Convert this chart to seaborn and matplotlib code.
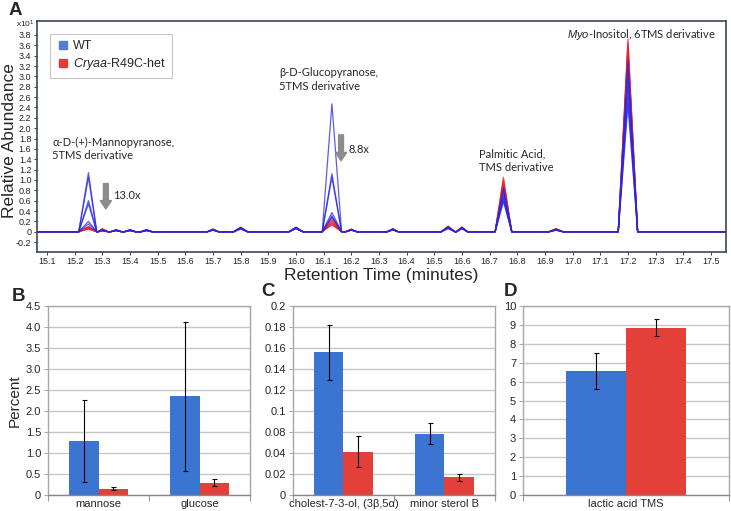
import matplotlib
matplotlib.use("Agg")
from matplotlib import pyplot as plt
from matplotlib.lines import Line2D
import numpy as np
import pandas as pd
import seaborn as sns

# ---- Panel A: chromatogram peaks (retention time in minutes, abundance x10^1) ----
t_start, t_end = 15.06, 17.56
peak_times = [15.25, 15.30, 15.35, 15.40, 15.46, 15.70, 15.80, 16.00,
              16.13, 16.20, 16.35, 16.55, 16.60, 16.75, 16.94, 17.20]
peak_halfwidth = [0.035, 0.02, 0.02, 0.02, 0.02, 0.02, 0.025, 0.025,
                  0.035, 0.02, 0.02, 0.025, 0.02, 0.03, 0.025, 0.035]

wt_traces = [
    [1.14, 0.03, 0.03, 0.03, 0.04, 0.04, 0.07, 0.07, 2.47, 0.04, 0.04, 0.08, 0.07, 0.85, 0.03, 3.30],
    [1.05, 0.02, 0.02, 0.04, 0.03, 0.03, 0.06, 0.08, 1.12, 0.03, 0.05, 0.07, 0.06, 0.78, 0.04, 3.10],
    [0.60, 0.03, 0.03, 0.03, 0.03, 0.04, 0.08, 0.06, 1.05, 0.04, 0.04, 0.09, 0.08, 0.72, 0.03, 2.95],
    [0.54, 0.02, 0.02, 0.02, 0.04, 0.03, 0.05, 0.07, 0.37, 0.03, 0.03, 0.06, 0.07, 0.66, 0.04, 2.80],
    [0.20, 0.03, 0.03, 0.03, 0.02, 0.04, 0.07, 0.06, 0.31, 0.03, 0.04, 0.08, 0.06, 0.62, 0.03, 2.60],
    [0.15, 0.02, 0.02, 0.02, 0.03, 0.03, 0.06, 0.08, 0.28, 0.04, 0.05, 0.07, 0.08, 0.58, 0.04, 2.45],
]
het_traces = [
    [0.10, 0.06, 0.04, 0.03, 0.03, 0.05, 0.09, 0.09, 0.26, 0.05, 0.06, 0.11, 0.09, 1.05, 0.06, 3.72],
    [0.09, 0.05, 0.03, 0.04, 0.03, 0.04, 0.08, 0.08, 0.22, 0.04, 0.05, 0.10, 0.08, 1.00, 0.05, 3.65],
    [0.08, 0.05, 0.04, 0.03, 0.02, 0.05, 0.07, 0.08, 0.20, 0.04, 0.05, 0.09, 0.09, 0.95, 0.05, 3.55],
    [0.07, 0.04, 0.03, 0.03, 0.03, 0.04, 0.08, 0.07, 0.17, 0.05, 0.04, 0.10, 0.08, 0.90, 0.06, 3.50],
    [0.06, 0.05, 0.03, 0.02, 0.02, 0.04, 0.07, 0.08, 0.15, 0.04, 0.05, 0.09, 0.07, 0.86, 0.05, 3.40],
    [0.05, 0.04, 0.03, 0.03, 0.03, 0.05, 0.08, 0.07, 0.13, 0.04, 0.04, 0.08, 0.08, 0.82, 0.04, 3.30],
]

# ---- Panel B: sugars (percent) ----
b_cats = ["mannose", "glucose"]
b_wt = [1.28, 2.35]
b_wt_err = [0.98, 1.77]
b_het = [0.15, 0.29]
b_het_err = [0.04, 0.08]

# ---- Panel C: sterols ----
c_cats = ["cholest-7-3-ol, (3\u03b2,5\u03b1)", "minor sterol B"]
c_wt = [0.151, 0.065]
c_wt_err = [0.029, 0.0115]
c_het = [0.046, 0.019]
c_het_err = [0.016, 0.0037]
c_tick_labels = ["0", "0.02", "0.04", "0.08", "0.1", "0.12", "0.14", "0.16", "0.18", "0.2"]

# ---- Panel D: lactic acid ----
d_cats = ["lactic acid TMS"]
d_wt = [6.55]
d_wt_err = [0.95]
d_het = [8.86]
d_het_err = [0.45]

BLUE_LINE = "#2626E6"
RED_LINE = "#E61E28"
BLUE_BAR = "#3B74D1"
RED_BAR = "#E3403A"

sns.set_theme(style="white")
plt.rcParams["font.family"] = ["Liberation Sans", "DejaVu Sans"]
plt.rcParams["mathtext.fontset"] = "custom"
plt.rcParams["mathtext.rm"] = "Liberation Sans"
plt.rcParams["mathtext.it"] = "Liberation Sans:italic"

fig = plt.figure(figsize=(7.31, 5.11), dpi=100)
axA = fig.add_axes([0.0506, 0.507, 0.9424, 0.452])
axB = fig.add_axes([0.0657, 0.0313, 0.2763, 0.3697])
axC = fig.add_axes([0.4008, 0.0313, 0.2763, 0.3697])
axD = fig.add_axes([0.7155, 0.0313, 0.2815, 0.3697])

# ---------------- Panel A ----------------
rows = []
for group, traces in (("het", het_traces), ("WT", wt_traces)):
    for k, heights in enumerate(traces):
        pts = [(t_start, 0.0), (t_end, 0.0)]
        for t, hw, h in zip(peak_times, peak_halfwidth, heights):
            pts += [(t - hw, 0.0), (t, h), (t + hw, 0.0)]
        for t, h in pts:
            rows.append({"group": group, "trace": f"{group}{k}", "time": t, "abund": h})
chrom_df = pd.DataFrame(rows)

for group, color in (("het", RED_LINE), ("WT", BLUE_LINE)):
    sns.lineplot(data=chrom_df[chrom_df["group"] == group], x="time", y="abund",
                 units="trace", estimator=None, color=color, linewidth=0.9,
                 alpha=0.75, ax=axA)

axA.set_xlim(15.064, 17.554)
axA.set_ylim(-0.39, 4.07)
yt = np.round(np.arange(-0.2, 3.81, 0.2), 1)
axA.set_yticks(yt)
axA.set_yticklabels(["0" if abs(v) < 1e-9 else f"{v:.1f}" for v in yt])
xt = np.round(np.arange(15.1, 17.51, 0.1), 1)
axA.set_xticks(xt)
axA.set_xticklabels([f"{v:.1f}" for v in xt],
                    family=["Liberation Sans Narrow", "Liberation Sans"])
axA.tick_params(axis="both", labelsize=6.5, length=2.5, width=0.6, pad=1.5,
                left=True, bottom=True, colors="#222222")
for sp in axA.spines.values():
    sp.set_color("#3C4858")
    sp.set_linewidth(1.2)
axA.set_xlabel("Retention Time (minutes)", fontsize=12.5, labelpad=1)
axA.set_ylabel("Relative Abundance", fontsize=12.5)
axA.yaxis.set_label_coords(-0.029, 0.48)
axA.text(-0.031, 0.985, "x10$^1$", transform=axA.transAxes, fontsize=6,
         ha="left", va="center")

handles = [Line2D([], [], marker="s", ls="none", color="#4E7ED6", markersize=6),
           Line2D([], [], marker="s", ls="none", color="#E33B3B", markersize=6)]
leg = axA.legend(handles, ["WT", "$\\it{Cryaa}$-R49C-het"], loc="upper left",
                 bbox_to_anchor=(0.019, 0.944), borderaxespad=0, fontsize=9,
                 frameon=True, fancybox=False, handletextpad=0.3, borderpad=0.5,
                 labelspacing=0.3, handlelength=1.0)
leg.get_frame().set_edgecolor("#BBBBBB")
leg.get_frame().set_linewidth(0.8)

ann_font = ["Lato", "DejaVu Sans"]
axA.text(15.12, 1.6, "\u03b1-D-(+)-Mannopyranose,\n5TMS derivative", fontsize=8,
         family=ann_font, va="center", ha="left", linespacing=1.3)
axA.text(15.94, 2.94, "\u03b2-D-Glucopyranose,\n5TMS derivative", fontsize=8,
         family=ann_font, va="center", ha="left", linespacing=1.3)
axA.text(16.66, 1.37, "Palmitic Acid,\nTMS derivative", fontsize=8,
         family=ann_font, va="center", ha="left", linespacing=1.3)
axA.text(16.98, 3.81, "$\\it{Myo}$-Inositol, 6TMS derivative", fontsize=8,
         family=ann_font, va="center", ha="left")
arrow_style = dict(facecolor="#8C8C8C", edgecolor="#8C8C8C", width=3.5,
                   headwidth=8, headlength=6)
axA.annotate("", xy=(15.313, 0.44), xytext=(15.313, 0.93), arrowprops=arrow_style)
axA.annotate("", xy=(16.163, 1.37), xytext=(16.163, 1.87), arrowprops=arrow_style)
axA.text(15.34, 0.70, "13.0x", fontsize=8, family=ann_font, va="center")
axA.text(16.19, 1.58, "8.8x", fontsize=8, family=ann_font, va="center")


# ---------------- Bar panels ----------------
def bar_panel(ax, cats, wt, wt_err, het, het_err):
    n = len(cats)
    df = pd.DataFrame({"cat": cats * 2,
                       "group": ["WT"] * n + ["het"] * n,
                       "val": wt + het})
    sns.barplot(data=df, x="cat", y="val", hue="group", hue_order=["WT", "het"],
                palette=[BLUE_BAR, RED_BAR], width=0.58, gap=0, saturation=1,
                errorbar=None, legend=False, linewidth=0, ax=ax)
    for cont, errs in zip(ax.containers, (wt_err, het_err)):
        xs = [p.get_x() + p.get_width() / 2 for p in cont]
        ys = [p.get_height() for p in cont]
        ax.errorbar(xs, ys, yerr=errs, fmt="none", ecolor="black",
                    elinewidth=0.8, capsize=1.8, capthick=0.8)
    ax.set_xlim(-0.5, n - 0.5)
    ax.set_xlabel("")
    ax.set_ylabel("")
    ax.set_axisbelow(True)
    ax.yaxis.grid(True, color="#C6C6C6", linewidth=1)
    ax.set_xticks(np.arange(n + 1) - 0.5, minor=True)
    ax.tick_params(axis="x", which="major", length=0, labelsize=8, pad=3)
    ax.tick_params(axis="x", which="minor", length=4, width=0.8,
                   color="#999999", bottom=True)
    ax.tick_params(axis="y", labelsize=8, length=3, width=0.6, left=True,
                   color="#999999", pad=2)
    for side, sp in ax.spines.items():
        sp.set_color("#A8A8A8")
        sp.set_linewidth(1.0)
    ax.spines["bottom"].set_color("#888888")


bar_panel(axB, b_cats, b_wt, b_wt_err, b_het, b_het_err)
axB.set_ylim(0, 4.5)
bt = np.arange(0, 4.51, 0.5)
axB.set_yticks(bt)
axB.set_yticklabels(["0"] + [f"{v:.1f}" for v in bt[1:]])
axB.set_ylabel("Percent", fontsize=11, labelpad=3)

bar_panel(axC, c_cats, c_wt, c_wt_err, c_het, c_het_err)
axC.set_ylim(0, 0.2)
axC.set_yticks(np.linspace(0, 0.2, len(c_tick_labels)))
axC.set_yticklabels(c_tick_labels)

bar_panel(axD, d_cats, d_wt, d_wt_err, d_het, d_het_err)
axD.set_ylim(0, 10)
axD.set_yticks(range(0, 11))

for label, x, y in (("A", 0.011, 0.997), ("B", 0.016, 0.42), ("C", 0.357, 0.43),
                    ("D", 0.689, 0.43)):
    fig.text(x, y, label, fontsize=13.5, fontweight="bold", ha="left",
             va="top" if label == "A" else "center")

fig.savefig("out.png", dpi=100)
